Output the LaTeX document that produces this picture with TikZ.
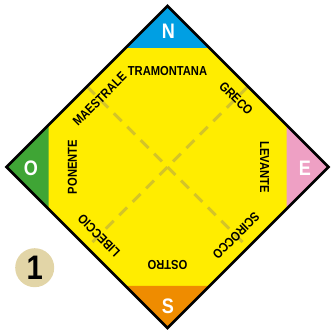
\documentclass[tikz,border=0pt]{standalone}
\usepackage{fontspec}
\setmainfont{Liberation Sans}[FakeStretch=0.86]
\definecolor{windyellow}{RGB}{255,237,0}
\definecolor{nordblue}{RGB}{0,159,227}
\definecolor{estpink}{RGB}{238,160,196}
\definecolor{sudorange}{RGB}{239,140,0}
\definecolor{ovestgreen}{RGB}{63,165,53}
\definecolor{dashcol}{RGB}{212,196,40}
\definecolor{badge}{RGB}{226,213,167}
\tikzset{
  wind/.style={font=\fontsize{13}{13}\selectfont\bfseries, inner sep=0pt},
  cardinal/.style={text=white, font=\fontsize{21}{21}\selectfont\bfseries, inner sep=0pt},
  crossline/.style={dashcol, line width=3pt, dash pattern=on 11pt off 8pt},
}
\begin{document}
\begin{tikzpicture}[x=1pt,y=1pt]
        \useasboundingbox (0,0) rectangle (330,332);
        \coordinate (c) at (167.5,165);
        \fill[windyellow] (6.5,165) -- (167.5,326) -- (328.5,165) -- (167.5,4) -- cycle;
        \fill[nordblue] (125.5,284) -- (167.5,326) -- (209.5,284) -- cycle;
        \fill[estpink] (286.5,207) -- (328.5,165) -- (286.5,123) -- cycle;
        \fill[sudorange] (125.5,46) -- (167.5,4) -- (209.5,46) -- cycle;
        \fill[ovestgreen] (48.5,207) -- (6.5,165) -- (48.5,123) -- cycle;
        \draw[crossline] (87,245.5) -- (248,84.5);
        \draw[crossline] (248,245.5) -- (87,84.5);
        \draw[line width=2.5pt] (6.5,165) -- (167.5,326) -- (328.5,165) -- (167.5,4) -- cycle;
        \node[cardinal] (nord) at (168.5,301) {N};
        \node[cardinal] (est) at (305,164) {E};
        \node[cardinal] (sud) at (168,26) {S};
        \node[cardinal] (ovest) at (31,164) {O};
        \node[wind] (tramontana) at ([shift={(90:96)}]c) {TRAMONTANA};
        \node[wind, rotate=-45] (greco) at ([shift={(45:97)}]c) {GRECO};
        \node[wind, rotate=-90] (levante) at ([shift={(0:97)}]c) {LEVANTE};
        \node[wind, rotate=-135] (scirocco) at ([shift={(-45:97)}]c) {SCIROCCO};
        \node[wind, rotate=180] (ostro) at ([shift={(-90:98)}]c) {OSTRO};
        \node[wind, rotate=135] (libeccio) at ([shift={(-135:97)}]c) {LIBECCIO};
        \node[wind, rotate=90] (ponente) at ([shift={(180:95)}]c) {PONENTE};
        \node[wind, rotate=45] (maestrale) at ([shift={(135:96)}]c) {MAESTRALE};
        \node[circle, fill=badge, minimum size=39pt, inner sep=0pt,
              font=\fontsize{34}{34}\selectfont\bfseries] (numero) at (34.7,64.3) {1};
    \end{tikzpicture}
\end{document}
